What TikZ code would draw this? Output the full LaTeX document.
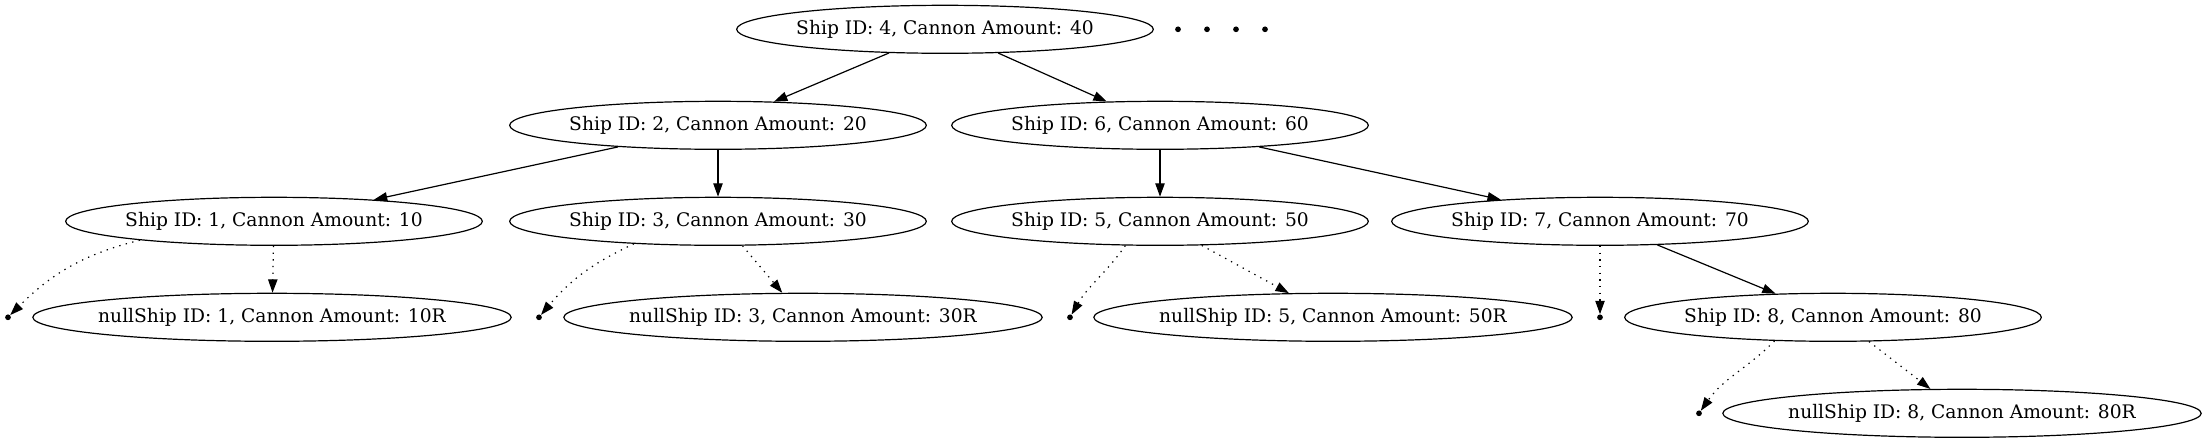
\documentclass[tikz,border=0pt]{standalone}
\usepackage{fontspec}
\setmainfont{DejaVu Serif}
\usetikzlibrary{arrows.meta,shapes.geometric}
\begin{document}
\begin{tikzpicture}[x=0.75pt,y=-0.75pt,
  ship/.style={ellipse,draw,line width=0.9pt,inner ysep=0pt,inner xsep=-1.1pt,minimum height=36pt,font=\fontsize{14pt}{16pt}\selectfont},
  nul/.style={ship,inner xsep=-3.5pt},
  pt/.style={circle,fill,inner sep=0pt,minimum size=4.3pt},
  edge/.style={line width=0.9pt,-{Triangle[length=10pt,width=7pt]}},
  dedge/.style={edge,dash pattern=on 1pt off 4pt}]
\useasboundingbox (0,0) rectangle (2207,443);
% level 0
\node[ship] (s4) at (945,29.3) {Ship ID: 4, Cannon Amount: 40};
\node[pt] (d1) at (1178,29.3) {};
\node[pt] (d2) at (1207,29.3) {};
\node[pt] (d3) at (1236,29.3) {};
\node[pt] (d4) at (1265,29.3) {};
% level 1
\node[ship] (s2) at (718,125.3) {Ship ID: 2, Cannon Amount: 20};
\node[ship] (s6) at (1160,125.3) {Ship ID: 6, Cannon Amount: 60};
% level 2
\node[ship] (s1) at (274,221.3) {Ship ID: 1, Cannon Amount: 10};
\node[ship] (s3) at (718,221.3) {Ship ID: 3, Cannon Amount: 30};
\node[ship] (s5) at (1160,221.3) {Ship ID: 5, Cannon Amount: 50};
\node[ship] (s7) at (1600,221.3) {Ship ID: 7, Cannon Amount: 70};
% level 3
\node[pt] (p1) at (8,317.3) {};
\node[nul] (n1) at (272,317.3) {nullShip ID: 1, Cannon Amount: 10R};
\node[pt] (p3) at (539,317.3) {};
\node[nul] (n3) at (803,317.3) {nullShip ID: 3, Cannon Amount: 30R};
\node[pt] (p5) at (1070,317.3) {};
\node[nul] (n5) at (1333,317.3) {nullShip ID: 5, Cannon Amount: 50R};
\node[pt] (p7) at (1600,317.3) {};
\node[ship] (s8) at (1833,317.3) {Ship ID: 8, Cannon Amount: 80};
% level 4
\node[pt] (p8) at (1699,413.3) {};
\node[nul] (n8) at (1962,413.3) {nullShip ID: 8, Cannon Amount: 80R};
% solid edges
\draw[edge] (s4) -- (s2);
\draw[edge] (s4) -- (s6);
\draw[edge] (s2) -- (s1);
\draw[edge] (s2) -- (s3);
\draw[edge] (s6) -- (s5);
\draw[edge] (s6) -- (s7);
\draw[edge] (s7) -- (s8);
% dotted edges
\draw[dedge] (s1.188) to[out=194,in=45] (p1);
\draw[dedge] (s1) -- (n1);
\draw[dedge] (s3.195) to[out=205,in=50] (p3);
\draw[dedge] (s3.-45) -- (n3);
\draw[dedge] (s5.215) to[out=235,in=60] (p5);
\draw[dedge] (s5.-30) -- (n5);
\draw[dedge] (s7) -- (p7);
\draw[dedge] (s8.202) to[out=225,in=55] (p8);
\draw[dedge] (s8.-34) -- (n8);
\end{tikzpicture}
\end{document}
